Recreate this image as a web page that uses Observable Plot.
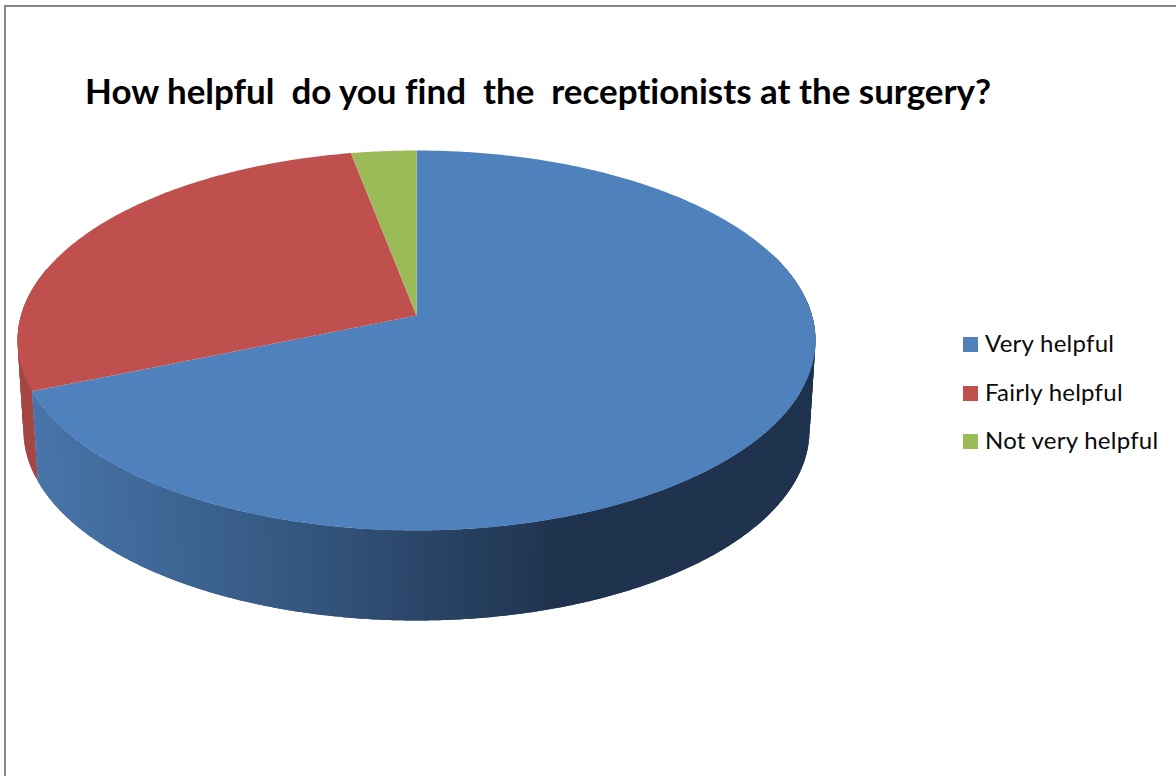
<!DOCTYPE html>
<html>
<head>
<meta charset="utf-8">
<script src="https://cdn.jsdelivr.net/npm/d3@7"></script>
<script src="https://cdn.jsdelivr.net/npm/@observablehq/plot@0.6"></script>
<style>
  html, body { margin: 0; padding: 0; background: #fff; overflow: hidden; }
  #page { position: relative; width: 1176px; height: 776px; overflow: hidden; font-family: Lato, "Open Sans", sans-serif; color: #000; }
  #frame { position: absolute; left: 4px; top: 5px; width: 1300px; height: 900px; border: 2px solid #868686; box-sizing: border-box; }
  #title { position: absolute; left: 85px; top: 69px; font-size: 34.95px; font-weight: 700; white-space: pre; line-height: 44px; font-variant-ligatures: none; }
  #chart { position: absolute; left: 0; top: 0; }
  #chart svg { background: transparent; display: block; }
  .item { position: absolute; left: 963px; height: 30px; }
  .swatch { position: absolute; left: 0; top: 8px; width: 15px; height: 15px; }
  .label { position: absolute; left: 22px; top: -1px; font-size: 24px; line-height: 30px; white-space: nowrap; letter-spacing: 0.25px; color: #0a0a0a; }
</style>
</head>
<body>
<div id="page">
  <div id="frame"></div>
  <div id="chart"></div>
  <div id="title">How helpful  do you find  the  receptionists at the surgery?</div>
  <div id="legend"></div>
</div>
<script>
const categories = ["Very helpful", "Fairly helpful", "Not very helpful"];
const shares = [68.7, 28.3, 3];
const colors = ["#4F81BD", "#C0504D", "#9BBB59"];
const legendTops = [329, 378, 426];

// Tilted-disc model of the 3D pie
const tilt = 0.1316, depth = 0.482, baseShrink = 0.985;
const project = (deg, lower) => {
  const a = deg * Math.PI / 180, u = Math.sin(a), v = Math.cos(a), w = 1 + tilt * v;
  return lower ? {x: baseShrink * u / w, y: v / w - depth} : {x: u / w, y: v / w};
};

const total = d3.sum(shares);
let running = 0;
const slices = categories.map((name, i) => {
  const start = running * 360 / total;
  running += shares[i];
  return {name, start, end: running * 360 / total, color: colors[i]};
});

const arc = (a, b, step = 0.5) => {
  const n = Math.max(1, Math.ceil(Math.abs(b - a) / step));
  return d3.range(n + 1).map(i => a + (b - a) * i / n);
};

// Top faces
const topRows = slices.flatMap(s => [
  {x: 0, y: 0, z: s.name, fill: s.color},
  ...arc(s.start, s.end).map(d => ({...project(d), z: s.name, fill: s.color}))
]);

// Side wall, shaded in narrow vertical bands; each band runs under the next
const blueWall = d3.scaleLinear()
  .domain([-1, -0.3, 0, 0.36, 1])
  .range(["#4A76AC", "#34577F", "#2B4669", "#1F334E", "#1F334E"]);
const redWall = () => "#A64744";
const bandStep = 1.2;
const wallRows = [];
const addWall = (from, to, shade, tag) => {
  const edges = arc(from, to, bandStep);
  edges.slice(1).forEach((b, i) => {
    const a = edges[i];
    const c = shade(project((a + b) / 2).x);
    const z = tag + i;
    const far = i === edges.length - 2 ? b : b + bandStep;
    const rim = arc(a, far, 0.4);
    const pts = [...rim.map(d => project(d)), ...rim.slice().reverse().map(d => project(d, true))];
    pts.forEach(p => wallRows.push({...p, z, fill: c}));
  });
};
addWall(slices[1].start, 285, redWall, "r");
addWall(70, slices[0].end, blueWall, "b");

const chart = Plot.plot({
  width: 1176,
  height: 776,
  margin: 0,
  x: {domain: [-1, 1], range: [416 - 395.5, 416 + 395.5], axis: null},
  y: {domain: [-1, 1], range: [315 + 186.7, 315 - 186.7], axis: null},
  color: {type: "identity"},
  style: {background: "transparent"},
  marks: [
    Plot.line(wallRows, {x: "x", y: "y", z: "z", fill: "fill", stroke: "none", curve: "linear"}),
    Plot.line(topRows, {x: "x", y: "y", z: "z", fill: "fill", stroke: "none", curve: "linear"})
  ]
});
document.getElementById("chart").appendChild(chart);

const legend = document.getElementById("legend");
categories.forEach((name, i) => {
  const item = document.createElement("div");
  item.className = "item";
  item.style.top = legendTops[i] + "px";
  const sw = document.createElement("div");
  sw.className = "swatch";
  sw.style.background = colors[i];
  const lb = document.createElement("div");
  lb.className = "label";
  lb.textContent = name;
  item.append(sw, lb);
  legend.appendChild(item);
});
</script>
</body>
</html>
